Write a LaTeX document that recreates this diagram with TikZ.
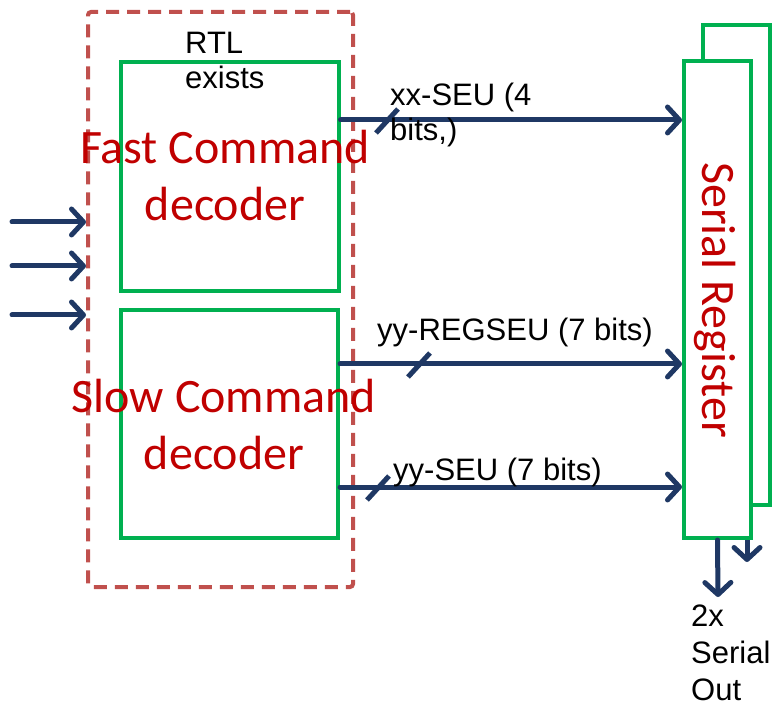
\documentclass[tikz,border=0pt]{standalone}
\usepackage{fontspec}
\setmainfont{Liberation Sans}
\newfontfamily\calfont{Carlito}
\usetikzlibrary{arrows.meta}
\definecolor{navyc}{HTML}{1F3864}
\definecolor{greenc}{HTML}{00B050}
\definecolor{dashc}{HTML}{C0504D}
\definecolor{redc}{HTML}{C00000}
\begin{document}
\begin{tikzpicture}[x=1pt,y=-1pt,
  greenbox/.style={draw=greenc, line width=4pt, fill=white, inner sep=0pt},
  dashbox/.style={draw=dashc, line width=4pt, dash pattern=on 13pt off 8pt, rounded corners=3pt, inner sep=0pt},
  arr/.style={draw=navyc, line width=5pt, line cap=round, -{Straight Barb[length=12pt,width=26pt,line cap=round,line join=round]}},
  slashmark/.style={draw=navyc, line width=5pt},
  lbl/.style={font=\fontsize{31}{35}\selectfont, inner sep=0pt, align=left, text=black},
  redtxt/.style={font=\calfont\fontsize{48}{57}\selectfont, inner sep=0pt, align=center, text=redc}
]
\useasboundingbox (0,0) rectangle (774,708);

% RTL dashed region and decoders
\node[dashbox, minimum width=265pt, minimum height=575pt] (rtl) at (220.5,299.5) {};
\node[greenbox, fill=none, minimum width=218pt, minimum height=229pt] (fast) at (229.5,176.5) {};
\node[greenbox, fill=none, minimum width=217pt, minimum height=228pt] (slow) at (229.5,424) {};

\node[redtxt, anchor=base] (fasttxt) at (225,221) {Fast Command\\decoder};
\node[redtxt, anchor=base] (slowtxt) at (224,469) {Slow Command\\decoder};
\node[lbl, anchor=base west] (rtltxt) at (185,89) {RTL\\exists};

% serial register (two stacked)
\node[greenbox, minimum width=67pt, minimum height=480pt] (sr2) at (736.5,265) {};
\coordinate (outB) at (747,562);
\draw[arr] ([xshift=10.5pt]sr2.south) -- (outB);
\node[greenbox, minimum width=67pt, minimum height=477pt] (sr) at (717.5,299.5) {};
\node[redtxt, rotate=-90, anchor=base] (srtxt) at (702,300) {Serial Register};
\coordinate (outA) at (718,597);
\draw[arr] (sr.south) -- (outA);
\node[lbl, font=\fontsize{31}{37}\selectfont, anchor=base west] (outtxt) at (691,700) {2x\\Serial\\Out};

% inputs
\coordinate (in1) at (12,222);
\coordinate (in2) at (12,266);
\coordinate (in3) at (12,315);
\draw[arr] (in1) -- (in1 -| rtl.west);
\draw[arr] (in2) -- (in2 -| rtl.west);
\draw[arr] (in3) -- (in3 -| rtl.west);

% outputs of decoders
\draw[arr] ([yshift=56.5pt]fast.east) coordinate (o1) -- (o1 -| sr.west);
\draw[arr] ([yshift=60pt]slow.east) coordinate (o2) -- (o2 -| sr.west);
\draw[arr] ([yshift=-63pt]slow.east) coordinate (o3) -- (o3 -| sr.west);

\draw[slashmark] (387,121) ++(-11,12) -- ++(22,-24);
\draw[slashmark] (419,365) ++(-11,12) -- ++(22,-24);
\draw[slashmark] (378,488) ++(-11,12) -- ++(22,-24);

\node[lbl, anchor=base west] (l1) at (390,141) {xx-SEU (4\\bits,)};
\node[lbl, anchor=base west] (l2) at (377,341) {yy-REGSEU (7 bits)};
\node[lbl, anchor=base west] (l3) at (393,481) {yy-SEU (7 bits)};
\end{tikzpicture}
\end{document}
